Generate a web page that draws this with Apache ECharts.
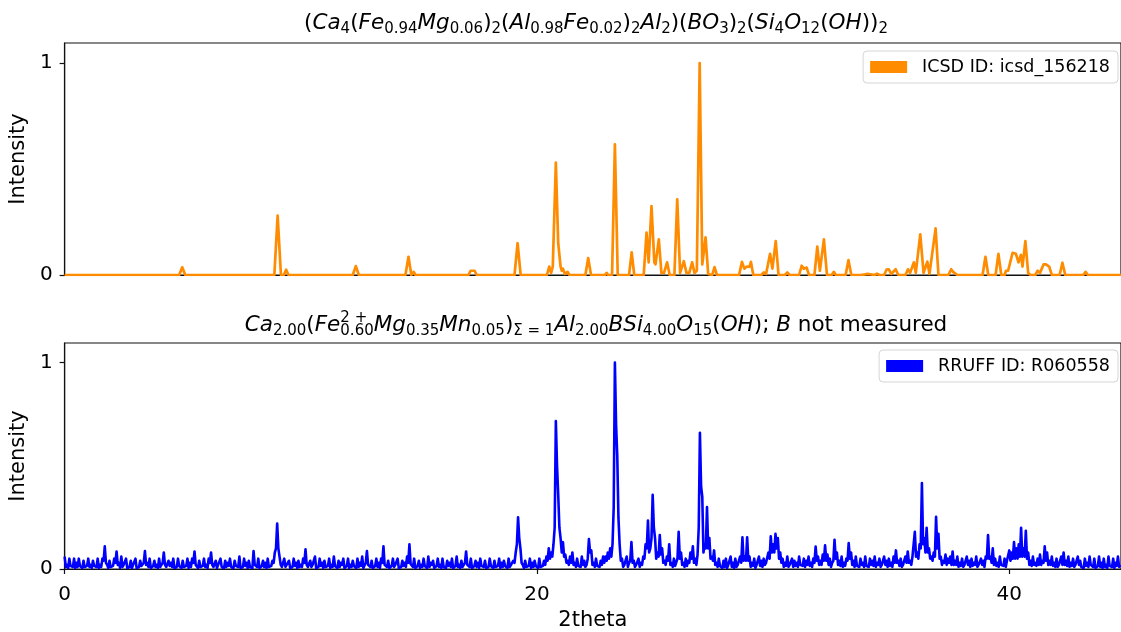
<!DOCTYPE html>
<html><head><meta charset="utf-8">
<script src="https://cdn.jsdelivr.net/npm/echarts@6/dist/echarts.min.js"></script>
<style>html,body{margin:0;padding:0;background:#fff}#c{width:1121px;height:632px}</style>
</head><body><div id="c"></div>
<script>
// ---- data ----
const xTickValues = [0, 20, 40];
const yTickValues = [0, 1];
const xMin = 0, xMax = 44.73;
const yMin = 0, yMax = 1.095;
const icsdName = 'ICSD ID: icsd_156218';
const rruffName = 'RRUFF ID: R060558';

// calculated pattern (2theta, intensity) vertices
const icsdProfile = [
[0,0],[4.85,0],[4.98,0.036],[5.11,0],
[8.88,0],[9.02,0.28],[9.16,0],[9.28,0],[9.38,0.025],[9.48,0],[9.82,0],[9.9,0.008],[9.98,0],
[12.2,0],[12.33,0.042],[12.46,0],[12.75,0],[12.82,0.005],[12.9,0],
[14.43,0],[14.56,0.086],[14.68,0],[14.72,0],[14.78,0.015],[14.86,0],
[16.05,0],[16.1,0.003],[16.15,0],
[17.1,0],[17.19,0.02],[17.27,0.012],[17.36,0.02],[17.45,0],[17.55,0],[17.6,0.005],[17.66,0],
[19.05,0],[19.18,0.15],[19.31,0],
[20.42,0],[20.52,0.04],[20.6,0.01],[20.67,0.04],[20.8,0.53],[20.9,0.15],[21.0,0.04],[21.05,0.02],[21.1,0.03],[21.18,0.005],[21.3,0.015],[21.38,0],
[22.05,0],[22.17,0.08],[22.29,0],
[22.88,0],[22.95,0.01],[23.02,0],[23.18,0],[23.3,0.617],[23.42,0],
[23.9,0],[24.01,0.107],[24.12,0],
[24.52,0],[24.64,0.2],[24.73,0.06],[24.85,0.325],[24.97,0.06],[25.02,0.05],[25.16,0.168],[25.27,0.01],[25.38,0.01],[25.51,0.06],[25.62,0],
[25.82,0],[25.94,0.357],[26.06,0.01],[26.12,0.01],[26.22,0.065],[26.33,0.01],[26.45,0.01],[26.57,0.06],[26.67,0.01],[26.77,0.02],[26.89,1.0],[27.0,0.05],[27.04,0.05],[27.14,0.178],[27.25,0.005],[27.42,0],[27.52,0.037],[27.62,0],
[28.56,0],[28.68,0.062],[28.78,0.03],[28.89,0.04],[29.0,0.04],[29.06,0.062],[29.16,0],
[29.5,0],[29.6,0.012],[29.7,0.005],[29.87,0.1],[29.97,0.03],[30.11,0.16],[30.23,0],[30.5,0],[30.6,0.012],[30.7,0],
[31.1,0],[31.21,0.044],[31.3,0.03],[31.42,0.035],[31.52,0],[31.75,0],[31.87,0.134],[31.98,0.02],[32.15,0.168],[32.28,0],[32.48,0],[32.57,0.015],[32.66,0],
[33.07,0],[33.19,0.07],[33.31,0],
[33.72,0],[33.8,0.008],[33.9,0.003],[34.0,0.005],[34.08,0],[34.3,0],[34.4,0.006],[34.5,0],
[34.7,0],[34.8,0.025],[34.9,0.027],[35.0,0.005],[35.08,0.01],[35.19,0.027],[35.3,0],[35.6,0],[35.71,0.027],[35.8,0.01],[35.96,0.06],[36.04,0.01],[36.23,0.192],[36.37,0.01],[36.53,0.063],[36.62,0.005],[36.88,0.22],[37.0,0],
[37.42,0],[37.54,0.027],[37.62,0.015],[37.7,0.02],[37.8,0],
[38.32,0],[38.4,0.003],[38.48,0],
[38.87,0],[38.99,0.086],[39.11,0],[39.42,0],[39.54,0.1],[39.66,0],
[39.8,0],[39.86,0.02],[39.95,0.02],[40.14,0.105],[40.28,0.1],[40.39,0.06],[40.49,0.095],[40.56,0.04],[40.68,0.16],[40.8,0.01],[40.9,0],
[41.1,0],[41.2,0.02],[41.3,0.01],[41.45,0.05],[41.55,0.05],[41.69,0.04],[41.8,0],
[42.13,0],[42.25,0.058],[42.37,0],
[43.13,0],[43.23,0.015],[43.33,0],
[44.12,0],[44.2,0.005],[44.28,0],[44.42,0],[44.5,0.005],[44.58,0],[44.73,0]
];

// measured pattern: intensity sampled every 0.1 degree starting at 0 (local maxima)
const rruffStart = 0;
const rruffStep = 0.1;
const rruffIntensity = [
0.06,0.02,0.05,0.01,0.05,0.03,0.05,0.02,0.04,0.01,
0.05,0.02,0.04,0.01,0.05,0.02,0.05,0.11,0.02,0.04,
0.01,0.05,0.085,0.03,0.06,0.02,0.05,0.01,0.04,0.02,
0.05,0.01,0.04,0.02,0.087,0.03,0.05,0.01,0.04,0.02,
0.05,0.02,0.08,0.01,0.04,0.03,0.05,0.01,0.05,0.02,
0.04,0.01,0.05,0.03,0.05,0.085,0.02,0.04,0.01,0.05,
0.02,0.05,0.08,0.01,0.04,0.02,0.05,0.01,0.04,0.03,
0.05,0.01,0.04,0.02,0.06,0.01,0.05,0.03,0.04,0.01,
0.087,0.02,0.05,0.01,0.04,0.03,0.05,0.01,0.04,0.08,
0.22,0.06,0.01,0.05,0.02,0.04,0.01,0.05,0.03,0.04,
0.02,0.05,0.095,0.01,0.04,0.02,0.06,0.01,0.05,0.03,
0.04,0.01,0.05,0.02,0.06,0.01,0.04,0.03,0.05,0.01,
0.05,0.02,0.04,0.01,0.05,0.03,0.06,0.01,0.087,0.02,
0.04,0.01,0.05,0.03,0.05,0.11,0.02,0.04,0.01,0.05,
0.02,0.05,0.01,0.04,0.03,0.06,0.12,0.02,0.05,0.01,
0.04,0.02,0.05,0.01,0.06,0.03,0.04,0.01,0.05,0.02,
0.05,0.01,0.04,0.03,0.05,0.01,0.06,0.02,0.04,0.01,
0.085,0.02,0.05,0.01,0.04,0.03,0.05,0.02,0.04,0.01,
0.05,0.02,0.04,0.01,0.05,0.03,0.04,0.01,0.05,0.02,
0.04,0.08,0.25,0.10,0.02,0.04,0.01,0.05,0.03,0.04,
0.02,0.05,0.01,0.04,0.06,0.10,0.08,0.12,0.717,0.36,
0.15,0.13,0.07,0.04,0.06,0.08,0.03,0.05,0.02,0.06,
0.04,0.02,0.145,0.09,0.03,0.05,0.02,0.04,0.06,0.06,
0.08,0.10,0.12,1.0,0.55,0.12,0.05,0.02,0.06,0.03,
0.13,0.04,0.02,0.05,0.03,0.06,0.12,0.235,0.10,0.36,
0.15,0.08,0.165,0.10,0.04,0.06,0.12,0.03,0.05,0.02,
0.18,0.08,0.03,0.05,0.04,0.08,0.11,0.05,0.07,0.66,
0.35,0.12,0.30,0.15,0.06,0.09,0.03,0.05,0.02,0.04,
0.05,0.02,0.06,0.03,0.05,0.02,0.06,0.153,0.06,0.153,
0.06,0.03,0.05,0.02,0.06,0.04,0.05,0.03,0.08,0.158,
0.12,0.17,0.15,0.08,0.05,0.03,0.06,0.02,0.05,0.04,
0.03,0.06,0.02,0.05,0.04,0.06,0.03,0.05,0.109,0.06,
0.04,0.07,0.115,0.07,0.05,0.03,0.142,0.08,0.04,0.06,
0.03,0.05,0.126,0.08,0.04,0.06,0.02,0.05,0.03,0.06,
0.02,0.05,0.04,0.06,0.03,0.05,0.02,0.06,0.04,0.05,
0.03,0.06,0.09,0.04,0.05,0.02,0.06,0.085,0.04,0.06,
0.18,0.08,0.12,0.417,0.15,0.20,0.10,0.06,0.08,0.253,
0.17,0.06,0.04,0.07,0.05,0.06,0.085,0.04,0.06,0.03,
0.05,0.02,0.06,0.04,0.05,0.03,0.06,0.02,0.05,0.04,
0.06,0.164,0.06,0.10,0.05,0.03,0.06,0.02,0.05,0.04,
0.09,0.08,0.13,0.10,0.12,0.20,0.10,0.185,0.08,0.04,
0.06,0.03,0.05,0.07,0.04,0.11,0.08,0.04,0.06,0.03,
0.05,0.02,0.06,0.08,0.04,0.06,0.03,0.05,0.02,0.06,
0.04,0.01,0.05,0.03,0.06,0.02,0.05,0.01,0.06,0.03,
0.05,0.02,0.06,0.01,0.05,0.03,0.06,0.02
];
// measured pattern: the low points half a step after each sample above (local minima)
const rruffValleys = [
0.01,0.005,0.015,0.01,0.005,0.01,0.015,0.005,0.01,0.015,
0.01,0.005,0.015,0.01,0.005,0.01,0.04,0.03,0.005,0.01,
0.015,0.03,0.02,0.005,0.01,0.015,0.005,0.01,0.005,0.015,
0.005,0.01,0.015,0.03,0.02,0.01,0.005,0.015,0.01,0.005,
0.01,0.03,0.02,0.005,0.015,0.01,0.005,0.01,0.015,0.005,
0.01,0.015,0.005,0.01,0.03,0.02,0.005,0.01,0.015,0.01,
0.005,0.03,0.02,0.01,0.005,0.015,0.01,0.005,0.01,0.015,
0.01,0.005,0.015,0.01,0.005,0.01,0.015,0.005,0.01,0.005,
0.02,0.01,0.005,0.015,0.01,0.005,0.01,0.015,0.03,0.1,
0.1,0.02,0.005,0.01,0.015,0.005,0.01,0.015,0.005,0.01,
0.01,0.03,0.02,0.005,0.01,0.015,0.005,0.01,0.015,0.005,
0.01,0.015,0.005,0.01,0.015,0.005,0.01,0.02,0.005,0.015,
0.005,0.01,0.015,0.005,0.01,0.015,0.005,0.03,0.02,0.01,
0.005,0.015,0.01,0.005,0.03,0.02,0.01,0.005,0.015,0.01,
0.015,0.005,0.01,0.015,0.01,0.03,0.025,0.01,0.005,0.015,
0.005,0.01,0.015,0.005,0.01,0.02,0.005,0.015,0.01,0.005,
0.01,0.005,0.015,0.01,0.005,0.015,0.01,0.005,0.01,0.03,
0.02,0.01,0.005,0.015,0.01,0.005,0.015,0.01,0.005,0.01,
0.015,0.005,0.01,0.015,0.005,0.01,0.015,0.005,0.01,0.015,
0.03,0.12,0.15,0.03,0.005,0.01,0.015,0.005,0.01,0.015,
0.005,0.01,0.015,0.02,0.04,0.05,0.06,0.2,0.5,0.2,
0.08,0.06,0.03,0.02,0.03,0.02,0.01,0.015,0.01,0.02,
0.01,0.05,0.08,0.02,0.01,0.015,0.01,0.02,0.03,0.04,
0.05,0.06,0.3,0.7,0.25,0.04,0.01,0.015,0.01,0.04,
0.03,0.01,0.015,0.01,0.02,0.05,0.1,0.08,0.15,0.2,
0.05,0.06,0.07,0.03,0.02,0.04,0.02,0.01,0.015,0.05,
0.05,0.02,0.01,0.015,0.03,0.05,0.03,0.02,0.2,0.4,
0.08,0.1,0.1,0.05,0.04,0.02,0.01,0.015,0.005,0.01,
0.005,0.015,0.01,0.005,0.01,0.015,0.03,0.04,0.04,0.04,
0.01,0.015,0.005,0.02,0.015,0.01,0.02,0.03,0.05,0.08,
0.08,0.1,0.05,0.03,0.01,0.015,0.01,0.02,0.01,0.015,
0.01,0.02,0.015,0.01,0.02,0.015,0.01,0.03,0.04,0.02,
0.02,0.04,0.04,0.02,0.01,0.04,0.05,0.02,0.015,0.01,
0.015,0.04,0.05,0.02,0.01,0.015,0.01,0.02,0.01,0.015,
0.01,0.02,0.015,0.01,0.02,0.01,0.015,0.02,0.01,0.015,
0.01,0.03,0.03,0.015,0.01,0.02,0.03,0.03,0.02,0.06,
0.06,0.05,0.1,0.12,0.08,0.08,0.05,0.04,0.06,0.1,
0.05,0.02,0.03,0.02,0.03,0.02,0.02,0.02,0.01,0.015,
0.01,0.015,0.02,0.01,0.015,0.02,0.01,0.015,0.02,0.01,
0.05,0.05,0.03,0.02,0.015,0.01,0.02,0.015,0.01,0.04,
0.04,0.05,0.05,0.05,0.06,0.06,0.06,0.05,0.02,0.015,
0.02,0.015,0.02,0.02,0.03,0.04,0.02,0.02,0.015,0.01,
0.01,0.015,0.02,0.02,0.015,0.01,0.015,0.01,0.015,0.02,
0.01,0.005,0.015,0.01,0.02,0.01,0.005,0.015,0.01,0.005,
0.01,0.005,0.015,0.01,0.005,0.015,0.01
];

// ---- chart ----
const FONT = 'DejaVu Sans';
const ORANGE = '#ff8c00', BLUE = '#0000ff';
const rruffData = [];
rruffIntensity.forEach((v, i) => {
  const x = rruffStart + i * rruffStep;
  rruffData.push([+x.toFixed(3), v]);
  if (i < rruffValleys.length) rruffData.push([+(x + rruffStep / 2).toFixed(3), rruffValleys[i]]);
});

const base = {fontFamily: FONT, fontWeight: 'normal', color: '#000', align: 'left'};
const titleRich = {
  i:   Object.assign({}, base, {fontStyle: 'italic', fontSize: 21.5, lineHeight: 28}),
  r:   Object.assign({}, base, {fontSize: 21.5, lineHeight: 28}),
  s:   Object.assign({}, base, {fontSize: 15, lineHeight: 16, verticalAlign: 'bottom'}),
  sup: Object.assign({}, base, {fontSize: 15, lineHeight: 16, verticalAlign: 'top', width: 0.01})
};
const topTitle = '{r|(}{i|Ca}{s|4}{r|(}{i|Fe}{s|0.94}{i|Mg}{s|0.06}{r|)}{s|2}{r|(}{i|Al}{s|0.98}{i|Fe}{s|0.02}{r|)}{s|2}{i|Al}{s|2}{r|)(}{i|BO}{s|3}{r|)}{s|2}{r|(}{i|Si}{s|4}{i|O}{s|12}{r|(}{i|OH}{r|))}{s|2}';
const bottomTitle = '{i|Ca}{s|2.00}{r|(}{i|Fe}{sup|2 +}{s|0.60}{i|Mg}{s|0.35}{i|Mn}{s|0.05}{r|)}{s|Σ = 1}{i|Al}{s|2.00}{i|BSi}{s|4.00}{i|O}{s|15}{r|(}{i|OH}{r|); }{i|B}{r| not measured}';

function grid(top) {
  return {left: 62, right: -1, top: top, height: 232, show: true, borderColor: '#111', borderWidth: 1.2, backgroundColor: 'transparent'};
}
function yAxis(gi) {
  return {
    type: 'value', gridIndex: gi, min: yMin, max: yMax,
    name: 'Intensity', nameLocation: 'middle', nameGap: 22, nameRotate: 90,
    nameTextStyle: {fontFamily: FONT, fontSize: 21, color: '#000'},
    axisLine: {show: true, lineStyle: {color: '#111', width: 1.2}},
    axisTick: {show: true, length: 5, customValues: yTickValues, lineStyle: {color: '#111', width: 1.2}},
    axisLabel: {customValues: yTickValues, fontFamily: FONT, fontSize: 20, color: '#000', margin: 12},
    splitLine: {show: false}
  };
}
function legend(name, color, top) {
  return {
    data: [{name: name, icon: 'rect', itemStyle: {color: color}}],
    right: 3, top: top, itemWidth: 37, itemHeight: 12,
    padding: [7, 8, 7, 7], borderColor: '#d5d5d5', borderWidth: 1, borderRadius: 4,
    backgroundColor: '#fff',
    textStyle: {fontFamily: FONT, fontSize: 17.5, color: '#000', padding: [0, 0, 0, 10]},
    selectedMode: false
  };
}

const option = {
  animation: false,
  backgroundColor: '#fff',
  title: [
    {text: topTitle, left: 591, top: 4, textAlign: 'center', textStyle: {fontWeight: 'normal', rich: titleRich}},
    {text: bottomTitle, left: 591, top: 306, textAlign: 'center', textStyle: {fontWeight: 'normal', rich: titleRich}}
  ],
  legend: [legend(icsdName, ORANGE, 51), legend(rruffName, BLUE, 350)],
  grid: [grid(43), grid(343)],
  xAxis: [
    {type: 'value', gridIndex: 0, min: xMin, max: xMax,
     axisLine: {show: true, lineStyle: {color: '#111', width: 1.2}},
     axisTick: {show: false}, axisLabel: {show: false}, splitLine: {show: false}},
    {type: 'value', gridIndex: 1, min: xMin, max: xMax,
     name: '2theta', nameLocation: 'middle', nameGap: 41,
     nameTextStyle: {fontFamily: FONT, fontSize: 21, color: '#000'},
     axisLine: {show: true, lineStyle: {color: '#111', width: 1.2}},
     axisTick: {show: true, length: 5, customValues: xTickValues, lineStyle: {color: '#111', width: 1.2}},
     axisLabel: {customValues: xTickValues, fontFamily: FONT, fontSize: 20, color: '#000', margin: 16},
     splitLine: {show: false}}
  ],
  yAxis: [yAxis(0), yAxis(1)],
  series: [
    {type: 'line', name: icsdName, xAxisIndex: 0, yAxisIndex: 0, data: icsdProfile,
     showSymbol: false, symbol: 'none', lineStyle: {color: ORANGE, width: 2.7, join: 'round'},
     itemStyle: {color: ORANGE}, z: 3},
    {type: 'line', name: rruffName, xAxisIndex: 1, yAxisIndex: 1, data: rruffData,
     showSymbol: false, symbol: 'none', lineStyle: {color: BLUE, width: 2.6, join: 'round'},
     itemStyle: {color: BLUE}, z: 3}
  ]
};
const chart = echarts.init(document.getElementById('c'), null, {renderer: 'canvas'});
chart.setOption(option);
</script>
</body></html>
